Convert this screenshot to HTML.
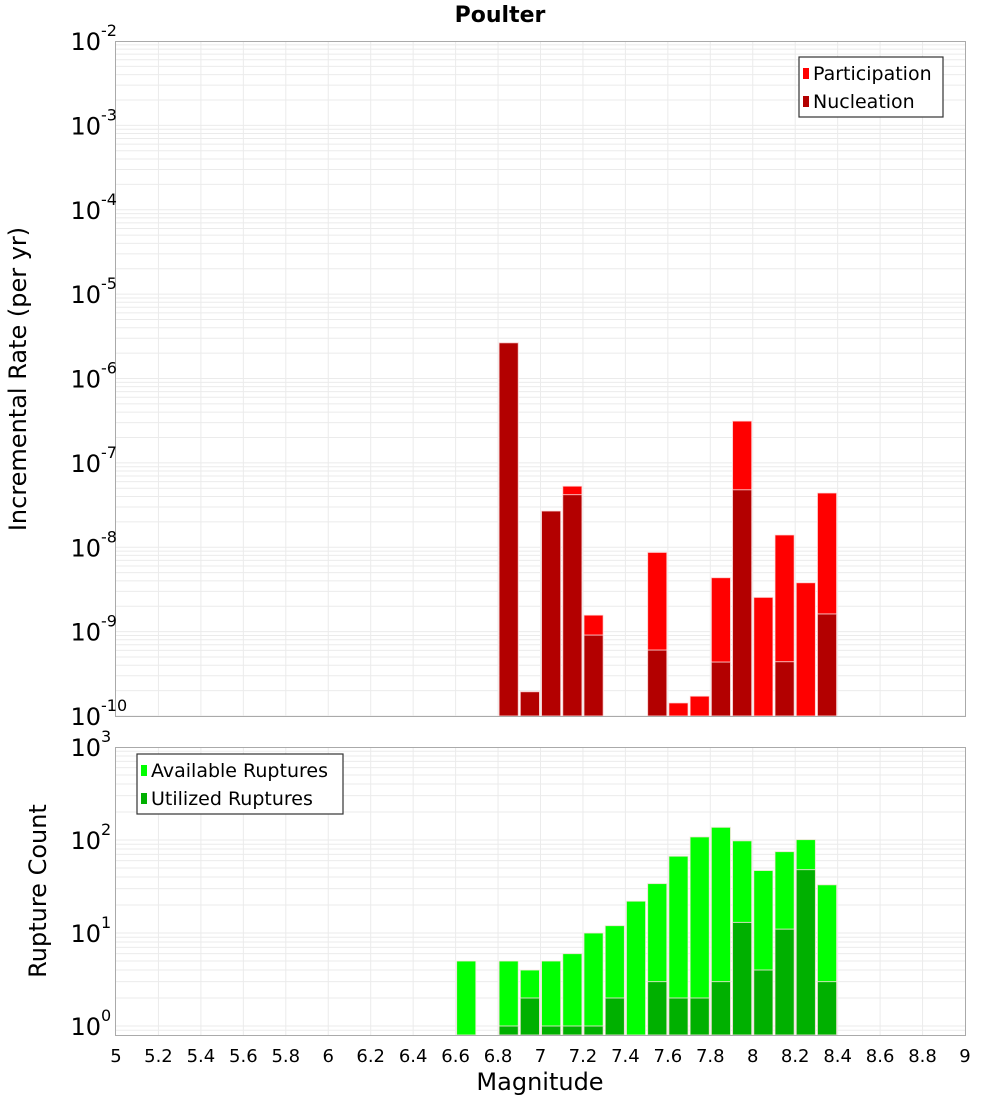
<!DOCTYPE html>
<html><head><meta charset="utf-8"><style>
html,body{margin:0;padding:0;background:#fff;}
svg{display:block;font-family:"Liberation Sans","DejaVu Sans",sans-serif;}
</style></head><body>
<svg id="chart" width="1000" height="1100" viewBox="0 0 1000 1100" xmlns="http://www.w3.org/2000/svg">
<text x="500" y="22" text-anchor="middle" font-size="22" font-weight="bold" font-family="DejaVu Sans, sans-serif">Poulter</text>
<g id="top"></g>
<g id="bot"></g>
<text transform="translate(26,379) rotate(-90)" text-anchor="middle" font-size="24" font-family="DejaVu Sans, sans-serif">Incremental Rate (per yr)</text>
<text transform="translate(46,891) rotate(-90)" text-anchor="middle" font-size="24" font-family="DejaVu Sans, sans-serif">Rupture Count</text>
<text x="540" y="1090" text-anchor="middle" font-size="24" font-family="DejaVu Sans, sans-serif">Magnitude</text>
</svg>
<script>
const mags = [6.65,6.85,6.95,7.05,7.15,7.25,7.35,7.45,7.55,7.65,7.75,7.85,7.95,8.05,8.15,8.25,8.35];
const participation = [0,2.65e-6,1.94e-10,2.69e-8,5.3e-8,1.57e-9,0,0,8.7e-9,1.43e-10,1.72e-10,4.36e-9,3.13e-7,2.55e-9,1.40e-8,3.8e-9,4.4e-8];
const nucleation = [0,2.65e-6,1.94e-10,2.69e-8,4.2e-8,9.1e-10,0,0,6.05e-10,0,0,4.36e-10,4.8e-8,0,4.4e-10,0,1.62e-9];
const available = [5,5,4,5,6,10,12,22,34,67,108,137,98,47,75,101,33];
const utilized = [0,1,2,1,1,1,2,0,3,2,2,3,13,4,11,48,3];
const xTicks = [5,5.2,5.4,5.6,5.8,6,6.2,6.4,6.6,6.8,7,7.2,7.4,7.6,7.8,8,8.2,8.4,8.6,8.8,9];
const topExps = [-2,-3,-4,-5,-6,-7,-8,-9,-10];
const botExps = [3,2,1,0];

const NS='http://www.w3.org/2000/svg';
const X0=116,X1=965;
const x = m => X0+(m-5)/4*(X1-X0);
const T0=41,T1=716;
const yTop = v => T0 + (-2-Math.log10(v))/8*(T1-T0);
const B0=747,B1=1035;
const yBot = v => 1026 - Math.log10(v)*93;
function mk(tag,attrs,parent){const e=document.createElementNS(NS,tag);for(const k in attrs)e.setAttribute(k,attrs[k]);parent.appendChild(e);return e;}

function frame(g,y0,y1,minE,maxE,yf){
  mk('rect',{x:X0,y:y0,width:X1-X0,height:y1-y0,fill:'#fff'},g);
  for(const t of xTicks){ if(t>5&&t<9){const l=mk('line',{x1:x(t),x2:x(t),y1:y0,y2:y1,stroke:'#ebebeb','stroke-width':1},g);
    
    }}
  for(let e=minE;e<maxE;e++){for(let k=1;k<10;k++){const v=k*Math.pow(10,e);const yy=yf(v);if(yy<y0||yy>y1)continue;
    const l=mk('line',{x1:X0,x2:X1,y1:yy,y2:yy,stroke:'#ebebeb','stroke-width':1},g);
    
    }}
}
function border(g,y0,y1){const r=mk('rect',{x:X0-0.5,y:y0+0.5,width:X1-X0+1,height:y1-y0,fill:'none',stroke:'#aaa','stroke-width':1},g);
  
  }
function bar(g,m,v,fill,yf,ybase,name){ if(!(v>0))return; const yy=yf(v);
  const r=mk('rect',{x:x(m-0.05)+1,y:yy,width:x(m+0.05)-x(m-0.05)-2,height:ybase-yy,fill:fill,stroke:'rgba(255,230,230,0.8)','stroke-width':1},g);
  
  }
function ylabel(g,e,yy){const t=mk('text',{x:101,y:yy+9,'text-anchor':'end','font-size':24,'font-family':'DejaVu Sans, sans-serif'},g);
  t.textContent='10';
  
  
  const s=mk('text',{x:101,y:yy-5,'font-size':16,'font-family':'DejaVu Sans, sans-serif'},g);
  s.textContent=String(e);
  
  }
function legend(g,lx,ly,w,items){const r=mk('rect',{x:lx,y:ly,width:w,height:60,fill:'#fff',stroke:'#333','stroke-width':1.2},g);
  
  
  items.forEach((it,i)=>{const cy=ly+16+i*28;
    const sw=mk('rect',{x:lx+4,y:cy-5,width:6,height:11,fill:it[1]},g);
    
    
    const t=mk('text',{x:lx+14,y:cy+7,'font-size':19,'font-family':'DejaVu Sans, sans-serif'},g);
    t.textContent=it[0];
    
    });}

const gt=document.getElementById('top');
frame(gt,T0,T1,-10,-2,yTop);
mags.forEach((m,i)=>bar(gt,m,participation[i],'#ff0000',yTop,T1,'participation-bar'));
mags.forEach((m,i)=>bar(gt,m,nucleation[i],'#b30000',yTop,T1,'nucleation-bar'));
border(gt,T0,T1);
topExps.forEach(e=>ylabel(gt,e,yTop(Math.pow(10,e))));
legend(gt,799,57,144,[['Participation','#ff0000'],['Nucleation','#b30000']]);

const gb=document.getElementById('bot');
frame(gb,B0,B1,-1,3,yBot);
mags.forEach((m,i)=>bar(gb,m,available[i],'#00ff00',yBot,B1,'available-bar'));
mags.forEach((m,i)=>bar(gb,m,utilized[i],'#00b000',yBot,B1,'utilized-bar'));
border(gb,B0,B1);
botExps.forEach(e=>ylabel(gb,e,yBot(Math.pow(10,e))));
legend(gb,137,754,206,[['Available Ruptures','#00ff00'],['Utilized Ruptures','#00b000']]);
xTicks.forEach(t=>{const l=mk('text',{x:x(t),y:1062,'text-anchor':'middle','font-size':18,'font-family':'DejaVu Sans, sans-serif'},gb);
  l.textContent=String(t);
  
  });
</script>
</body></html>
